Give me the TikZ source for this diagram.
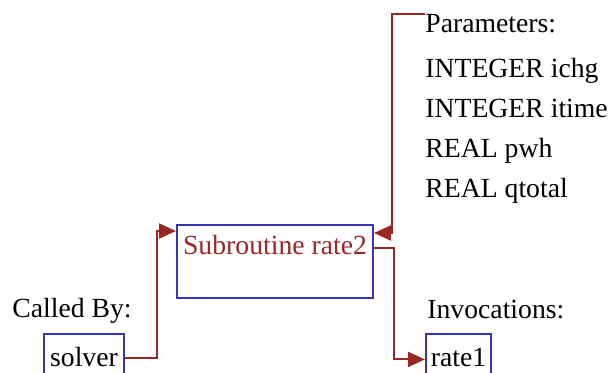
\documentclass[tikz,border=0pt]{standalone}
\usepackage{fontspec}
\setmainfont{Liberation Serif}
\usetikzlibrary{arrows.meta,positioning,calc}
\definecolor{CallBlue}{HTML}{3434B4}
\definecolor{CallRed}{HTML}{9A2626}
\tikzset{>={Triangle[length=8.5pt,width=7.5pt]},every node/.style={font=\fontsize{13.85}{16}\selectfont,inner sep=0pt},
 txt/.style={anchor=base west},
 unitbox/.style={draw=CallBlue,line width=1pt,anchor=north west,text height=16pt,text depth=20pt},
 flow/.style={draw=CallRed,line width=1pt,->}}
\begin{document}
\begin{tikzpicture}[x=0.5pt,y=-0.5pt]
\useasboundingbox (0,0) rectangle (610,372);
\clip (0,0) rectangle (610,372);
\node[unitbox,text=CallRed,minimum width=98pt,text height=14.5pt,text depth=22pt] (rate2) at (176,224) {Subroutine rate2};
\node[txt] (called) at (12,317) {Called By:};
\node[unitbox,minimum width=40pt] (solver) at (43,333) {solver};
\node[txt] (inv) at (427,318) {Invocations:};
\node[unitbox,minimum width=32.5pt] (rate1) at (425,333) {rate1};
\node[txt] (par) at (425,32) {Parameters:};
\foreach \t [count=\i] in {INTEGER ichg,INTEGER itime,REAL pwh,REAL qtotal}
 \node[txt] (p\i) at (425,37+40*\i) {\t};
\draw[flow] ([yshift=1.5pt]solver.mid east) -| ([xshift=-9.5pt,yshift=-3.5pt]rate2.north west) -- ([yshift=-3.5pt]rate2.north west);
\draw[flow] ([yshift=-0.5pt]par.north west) -| ([xshift=9pt,yshift=-4.5pt]rate2.north east) -- ([yshift=-4.5pt]rate2.north east);
\draw[flow] ([yshift=-12pt]rate2.north east) -- ++(20,0) |- ([yshift=1pt]rate1.mid west);
\end{tikzpicture}
\end{document}
